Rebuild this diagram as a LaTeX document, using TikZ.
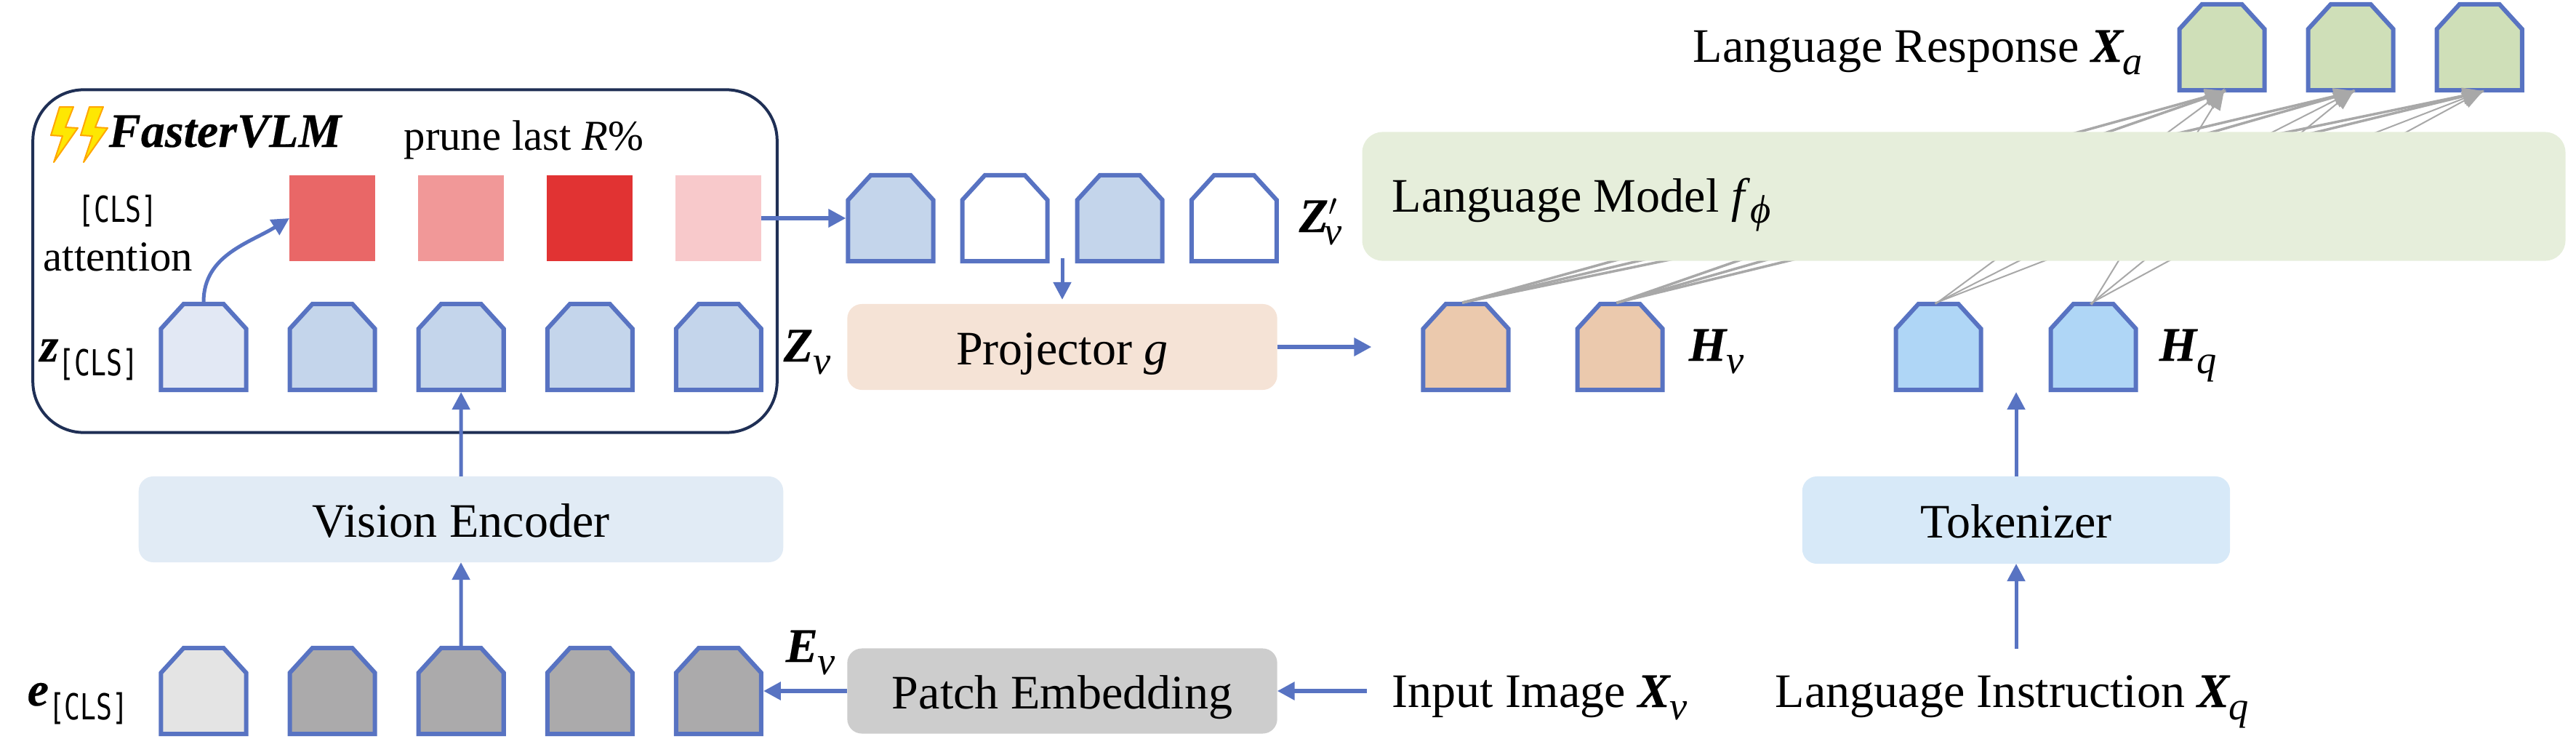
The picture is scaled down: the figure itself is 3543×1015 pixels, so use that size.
\documentclass[tikz,border=0pt]{standalone}
\usepackage{fontspec}
\setmainfont{Liberation Serif}
\setmonofont[FakeStretch=0.74]{DejaVu Sans Mono}
\usetikzlibrary{positioning, arrows.meta}

\definecolor{tokline}{HTML}{5873C2}
\definecolor{framecol}{HTML}{1F2F55}
\definecolor{gline}{HTML}{A8A8A8}
\definecolor{tokz}{HTML}{C4D5EB}
\definecolor{tokzcls}{HTML}{E2E8F4}
\definecolor{tokecls}{HTML}{E4E4E4}
\definecolor{toke}{HTML}{ABAAAB}
\definecolor{tokhv}{HTML}{EBC9AD}
\definecolor{tokhq}{HTML}{AFD6F6}
\definecolor{tokxa}{HTML}{CFDFB8}
\definecolor{attA}{HTML}{E96767}
\definecolor{attB}{HTML}{F19898}
\definecolor{attC}{HTML}{E13333}
\definecolor{attD}{HTML}{F8C9CB}
\definecolor{blkenc}{HTML}{E1EBF5}
\definecolor{blkproj}{HTML}{F5E3D6}
\definecolor{blkpatch}{HTML}{CDCDCD}
\definecolor{blktok}{HTML}{D7E9F8}
\definecolor{blklm}{HTML}{E6EEDB}
\newcommand{\vsym}[1]{{\bfseries\itshape\addfontfeature{FakeBold=0.3}#1}}
\newcommand{\tsub}[1]{\raisebox{-0.26em}{\fontsize{15.5}{17}\selectfont\itshape #1}}
\newcommand{\clstok}{{\fontsize{14}{16}\selectfont\ttfamily[CLS]}}
\newcommand{\clssub}{\raisebox{-0.3em}{\clstok}}

% Rectangle with its two top corners cut
\makeatletter
\pgfdeclareshape{cuttoken}{
    \inheritsavedanchors[from=rectangle]
    \inheritanchorborder[from=rectangle]
    \inheritanchor[from=rectangle]{center}
    \inheritanchor[from=rectangle]{north}
    \inheritanchor[from=rectangle]{south}
    \inheritanchor[from=rectangle]{west}
    \inheritanchor[from=rectangle]{east}
    \backgroundpath{
        \southwest \pgf@xa=\pgf@x \pgf@ya=\pgf@y
        \northeast \pgf@xb=\pgf@x \pgf@yb=\pgf@y
        \pgfmathsetlength\pgf@xc{\pgfkeysvalueof{/pgf/outer xsep}}
        \advance\pgf@xa by \pgf@xc \advance\pgf@xb by -\pgf@xc
        \pgfmathsetlength\pgf@yc{\pgfkeysvalueof{/pgf/outer ysep}}
        \advance\pgf@ya by \pgf@yc \advance\pgf@yb by -\pgf@yc
        \pgfpathmoveto{\pgfqpoint{\pgf@xa}{\pgf@ya}}
        \pgfpathlineto{\pgfqpoint{\pgf@xb}{\pgf@ya}}
        \pgfpathlineto{\pgfqpoint{\pgf@xb}{\dimexpr\pgf@yb-0.34cm}}
        \pgfpathlineto{\pgfqpoint{\dimexpr\pgf@xb-0.31cm}{\pgf@yb}}
        \pgfpathlineto{\pgfqpoint{\dimexpr\pgf@xa+0.31cm}{\pgf@yb}}
        \pgfpathlineto{\pgfqpoint{\pgf@xa}{\dimexpr\pgf@yb-0.34cm}}
        \pgfpathclose
    }
}
\makeatother

\begin{document}
\begin{tikzpicture}[
        x=0.01cm, y=-0.01cm,
        on grid,
        node distance=1.77cm,
        every node/.style={font=\fontsize{18.8}{22}\selectfont, inner sep=0pt},
        % Tokens with cut top corners
        token/.style={
                cuttoken,
                draw=tokline,
                line width=0.06cm,
                minimum width=1.17cm,
                minimum height=1.18cm,
                fill=#1
            },
        % Attention squares
        att/.style={
                fill=#1,
                minimum size=1.18cm,
                outer sep=0pt
            },
        % Pale blocks
        block/.style={
                fill=#1,
                rounded corners=0.2cm,
                outer sep=0pt,
                text height=0.62cm,
                text depth=0.14cm
            },
        lbl/.style={anchor=base west},
        smalltext/.style={font=\fontsize{16.7}{20}\selectfont},
        % Arrows
        arr/.style={-{Stealth[length=2.4mm, width=2.4mm, inset=0pt]}, line width=0.05cm, color=tokline},
        thickarr/.style={arr, line width=0.06cm},
        garr/.style={-{Stealth[length=3mm, width=2.2mm, inset=0pt]}, line width=#1, color=gline, shorten >=-0.07cm, shorten <=-0.05cm},
        bolt/.style={fill=yellow!90!orange, draw=orange!70!yellow, line width=0.02cm, line join=round}
    ]
    \useasboundingbox (0,0) rectangle (3543,1015);

    % 1. FasterVLM frame
    \node[draw=framecol, line width=0.04cm, rounded corners=0.7cm, minimum width=10.23cm, minimum height=4.71cm] (frame) at (557,359) {};
    \draw[bolt] (82,147) -- (101,147) -- (90,175) -- (107,176) -- (74,223) -- (86,187) -- (70,186) -- cycle;
    \draw[bolt] (123,147) -- (142,147) -- (131,175) -- (148,176) -- (115,223) -- (127,187) -- (111,186) -- cycle;
    \node[lbl] (fname) at (149,202) {\vsym{FasterVLM}};
    \node[lbl, smalltext] (prune) at (555,206) {prune last \textit{R}\%};
    \node (clsname) at (162,290) {\clstok};
    \node[lbl, smalltext] (attn) at (59,372) {attention};

    % 2. Attention squares
    \node[att=attA] (r0) at (457,300) {};
    \node[att=attB, right=of r0] (r1) {};
    \node[att=attC, right=of r1] (r2) {};
    \node[att=attD, right=of r2] (r3) {};

    % 3. Token rows
    \node[token=tokzcls] (z0) at (280,477) {};
    \node[token=tokz, right=of z0] (z1) {};
    \node[token=tokz, right=of z1] (z2) {};
    \node[token=tokz, right=of z2] (z3) {};
    \node[token=tokz, right=of z3] (z4) {};

    \node[token=tokecls] (e0) at (280,950) {};
    \node[token=toke, right=of e0] (e1) {};
    \node[token=toke, right=of e1] (e2) {};
    \node[token=toke, right=of e2] (e3) {};
    \node[token=toke, right=of e3] (e4) {};

    \node[token=tokz] (zp0) at (1225,300) {};
    \node[token=white, right=1.57cm of zp0] (zp1) {};
    \node[token=tokz, right=1.58cm of zp1] (zp2) {};
    \node[token=white, right=1.57cm of zp2] (zp3) {};

    \node[token=tokhv] (hv0) at (2016,477) {};
    \node[token=tokhv, right=2.12cm of hv0] (hv1) {};
    \node[token=tokhq] (hq0) at (2666,477) {};
    \node[token=tokhq, right=2.13cm of hq0] (hq1) {};

    \node[token=tokxa] (xa0) at (3056,65) {};
    \node[token=tokxa, right=of xa0] (xa1) {};
    \node[token=tokxa, right=of xa1] (xa2) {};

    % 4. Token labels
    \node[lbl] (zcls) at (54,497) {\vsym{z}\clssub};
    \node[lbl] (zv) at (1077,497) {\vsym{Z}\tsub{v}};
    \node[lbl] (zpv) at (1786,319) {\vsym{Z}$'$\kern-0.28em\tsub{v}};
    \node[lbl] (ecls) at (37,970) {\vsym{e}\clssub};
    \node[lbl] (ev) at (1080,910) {\vsym{E}\tsub{v}};
    \node[lbl] (hvl) at (2322,496) {\vsym{H}\tsub{v}};
    \node[lbl] (hql) at (2969,496) {\vsym{H}\tsub{q}};
    \node[lbl] (resp) at (2328,85) {Language Response \vsym{X}\tsub{a}};
    \node[lbl] (inimg) at (1914,972) {Input Image \vsym{X}\tsub{v}};
    \node[lbl] (instr) at (2441,972) {Language Instruction \vsym{X}\tsub{q}};

    % 5. Blocks
    \node[block=blkenc, minimum width=8.86cm, minimum height=1.18cm] (venc) at (634,714) {Vision Encoder};
    \node[block=blkproj, minimum width=5.91cm, minimum height=1.18cm] (proj) at (1461,477) {Projector \textit{g}};
    \node[block=blkpatch, minimum width=5.91cm, minimum height=1.17cm] (patch) at (1461,950) {Patch Embedding};
    \node[block=blktok, minimum width=5.88cm, minimum height=1.20cm] (tokzr) at (2773,715) {Tokenizer};

    % 6. Grey links (the language model covers their middle part)
    \draw[garr=0.035cm] (hv0.north) -- (xa0.south);
    \draw[garr=0.035cm] (hv0.north) -- (xa1.south);
    \draw[garr=0.035cm] (hv0.north) -- (xa2.south);
    \draw[garr=0.035cm] (hv1.north) -- (xa0.south);
    \draw[garr=0.035cm] (hv1.north) -- (xa1.south);
    \draw[garr=0.035cm] (hv1.north) -- (xa2.south);
    \draw[garr=0.02cm] (hq0.north) -- (xa0.south);
    \draw[garr=0.02cm] (hq0.north) -- (xa1.south);
    \draw[garr=0.02cm] (hq0.north) -- (xa2.south);
    \draw[garr=0.02cm] (hq1.north) -- (xa0.south);
    \draw[garr=0.02cm] (hq1.north) -- (xa1.south);
    \draw[garr=0.02cm] (hq1.north) -- (xa2.south);

    % Language model on top of the links
    \node[block=blklm, minimum width=16.54cm, minimum height=1.77cm, rounded corners=0.28cm] (lmodel) at (2701,270) {};
    \node[lbl] (lmname) at (1914,291) {Language Model \textit{f}\raisebox{-0.24em}{\fontsize{15.5}{17}\selectfont\textit{ϕ}}};

    % 7. Blue arrows
    \draw[arr] (z0.north) to[out=90, in=212] (r0.west);
    \draw[thickarr] (r3.east) -- (zp0.west);
    \coordinate (zpdrop) at (1461,355);
    \draw[arr, shorten >=0.06cm] (zpdrop) -- (proj.north);
    \draw[thickarr, shorten >=0.68cm] (proj.east) -- (hv0.west);
    \draw[arr] (venc.north) -- (z2.south);
    \draw[arr] (e2.north) -- (venc.south);
    \draw[thickarr] (patch.west) -- (e4.east);
    \draw[thickarr, shorten <=0.34cm] (inimg.west |- patch) -- (patch.east);
    \draw[arr] (tokzr.north) -- (hq0.south -| tokzr.north);
    \draw[arr, shorten <=0.36cm] (instr.north -| tokzr.south) -- (tokzr.south);
\end{tikzpicture}
\end{document}
